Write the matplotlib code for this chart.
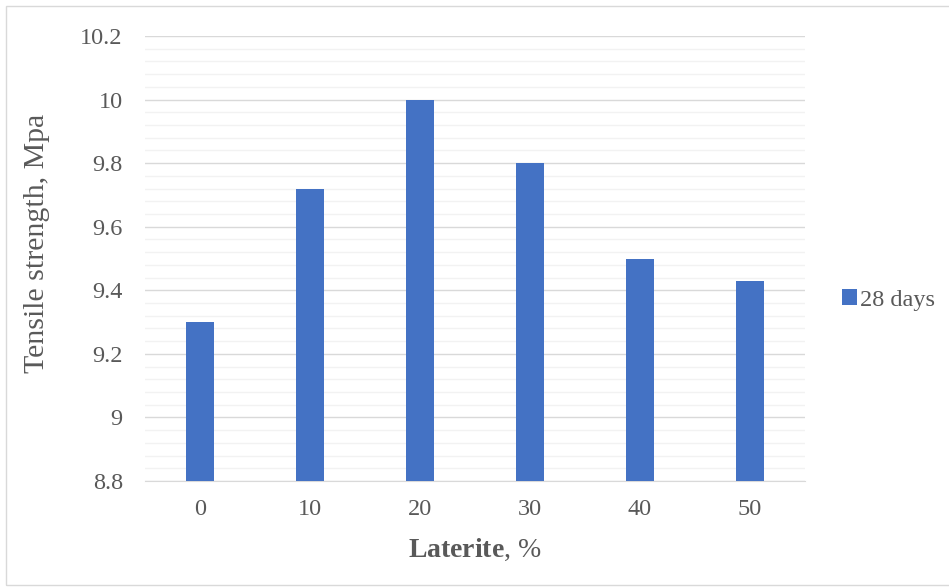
import matplotlib
matplotlib.use("Agg")
import matplotlib.pyplot as plt
from matplotlib.patches import Rectangle
import numpy as np

categories = ["0", "10", "20", "30", "40", "50"]
values = [9.30, 9.72, 10.00, 9.80, 9.50, 9.43]
series_name = "28 days"
y_ticks = [8.8, 9.0, 9.2, 9.4, 9.6, 9.8, 10.0, 10.2]
y_tick_labels = ["8.8", "9", "9.2", "9.4", "9.6", "9.8", "10", "10.2"]

plt.rcParams['font.family'] = ['Liberation Serif', 'DejaVu Serif']
plt.rcParams['mathtext.fontset'] = 'custom'
plt.rcParams['mathtext.rm'] = 'Liberation Serif'
plt.rcParams['mathtext.bf'] = 'Liberation Serif:bold'
text_color = '#595959'

fig = plt.figure(figsize=(9.49, 5.87), dpi=100)
W, H = 949, 587
ax = fig.add_axes([145 / W, 1 - 481 / H, (805 - 145) / W, (481 - 36) / H])

x = np.arange(len(categories))
ax.bar(x, values, width=0.25, color='#4472C4', zorder=3, label=series_name)

ax.set_ylim(8.8, 10.2)
ax.set_xlim(-0.5, len(categories) - 0.5)
ax.set_yticks(y_ticks)
ax.set_yticklabels(y_tick_labels)
ax.set_yticks(np.arange(8.8, 10.2001, 0.04), minor=True)
ax.set_xticks(x)
ax.set_xticklabels(categories)

ax.grid(axis='y', which='major', color='#D9D9D9', linewidth=1.0, zorder=0)
ax.grid(axis='y', which='minor', color='#F2F2F2', linewidth=1.0, zorder=0)
ax.tick_params(axis='both', which='both', length=0, labelsize=17.5, colors=text_color)
ax.tick_params(axis='x', pad=13)
ax.tick_params(axis='y', pad=16)
for s in ['top', 'right', 'left']:
    ax.spines[s].set_visible(False)
ax.spines['bottom'].set_color('#D9D9D9')

ax.set_ylabel("Tensile strength, Mpa", fontsize=21.5, color=text_color)
ax.yaxis.set_label_coords(-0.144, 0.535)
ax.set_xlabel(r"$\mathbf{Laterite}$, %", fontsize=20, color=text_color, labelpad=12)

leg = ax.legend(loc='center left', bbox_to_anchor=(842 / W, 1 - 300 / H), bbox_transform=fig.transFigure,
                frameon=False, fontsize=17.5, handlelength=0.6, handleheight=0.6, handletextpad=0.15,
                borderaxespad=0, borderpad=0)
for t in leg.get_texts():
    t.set_color(text_color)

fig.patches.append(Rectangle((6 / W, 0.003), 1.0, 1 - 6 / H - 0.003, transform=fig.transFigure,
                             fill=False, edgecolor='#D9D9D9', linewidth=1.0))

fig.savefig("out.png", dpi=100, facecolor='white')
